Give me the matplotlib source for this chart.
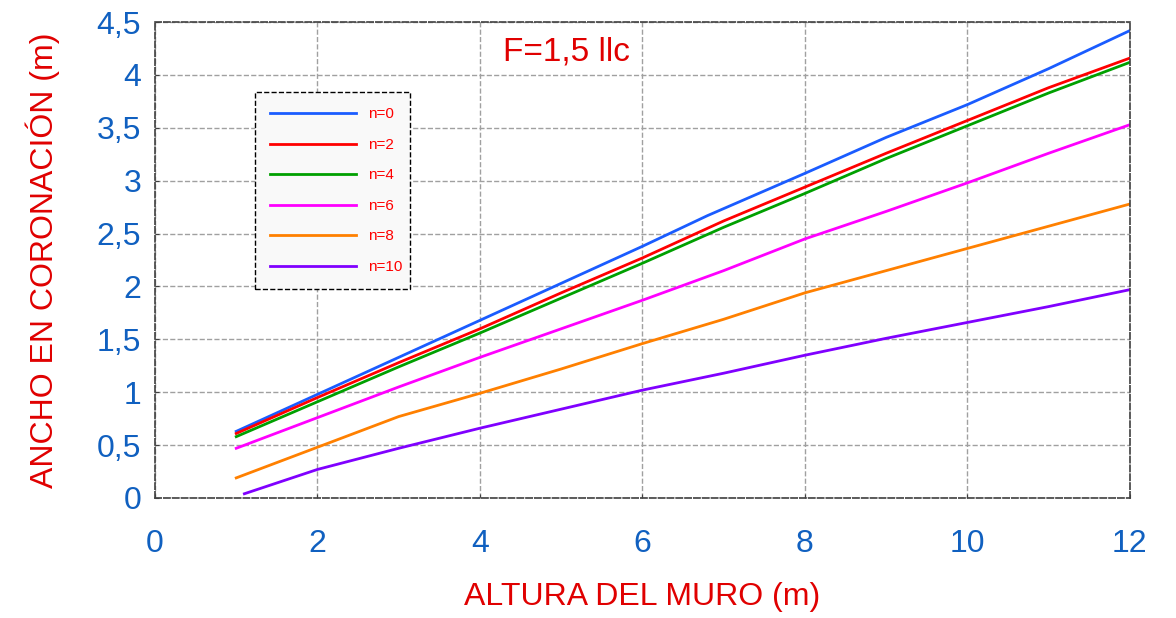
import matplotlib.pyplot as plt
from matplotlib.ticker import FuncFormatter

# datos
x_std = [1, 2, 3, 4, 5, 6, 7, 8, 9, 10, 11, 12]
x_n0 = [1, 2, 3, 4, 5, 6, 6.8, 8, 9, 10, 11, 12]
x_n10 = [1.1, 2, 3, 4, 5, 6, 7, 8, 9, 10, 11, 12]

n0 = [0.63, 0.98, 1.33, 1.68, 2.03, 2.38, 2.67, 3.07, 3.41, 3.72, 4.06, 4.42]
n2 = [0.61, 0.95, 1.28, 1.60, 1.94, 2.27, 2.62, 2.94, 3.26, 3.57, 3.88, 4.16]
n4 = [0.58, 0.91, 1.24, 1.56, 1.89, 2.22, 2.56, 2.88, 3.21, 3.52, 3.83, 4.12]
n6 = [0.47, 0.76, 1.05, 1.33, 1.60, 1.87, 2.15, 2.45, 2.71, 2.98, 3.26, 3.53]
n8 = [0.19, 0.48, 0.77, 0.99, 1.22, 1.46, 1.69, 1.94, 2.15, 2.36, 2.57, 2.78]
n10 = [0.04, 0.27, 0.47, 0.66, 0.84, 1.02, 1.18, 1.35, 1.51, 1.66, 1.81, 1.97]

series = [
    (x_n0, n0, 'n=0', '#1a5cff'),
    (x_std, n2, 'n=2', '#ff0000'),
    (x_std, n4, 'n=4', '#00a000'),
    (x_std, n6, 'n=6', '#ff00ff'),
    (x_std, n8, 'n=8', '#ff8000'),
    (x_n10, n10, 'n=10', '#8000ff'),
]

plt.rcParams['font.family'] = ['Liberation Sans', 'DejaVu Sans']

fig = plt.figure(figsize=(11.76, 6.18), dpi=100)
ax = fig.add_axes([0.1318, 0.1942, 0.829, 0.770])

for xs, ys, lab, col in series:
    ax.plot(xs, ys, color=col, lw=2, label=lab)

ax.set_xlim(0, 12)
ax.set_ylim(0, 4.5)
ax.set_xticks(range(0, 13, 2))
ax.set_yticks([i * 0.5 for i in range(10)])
ax.yaxis.set_major_formatter(FuncFormatter(
    lambda v, p: ('%g' % v).replace('.', ',')))

tick_col = '#1060c0'
ax.tick_params(axis='both', labelsize=23, labelcolor=tick_col,
               direction='in', length=3, color='#404040')
ax.tick_params(axis='x', pad=22)
ax.tick_params(axis='y', pad=10)

ax.grid(True, color='#a0a0a0', ls='--', lw=1)
for s in ax.spines.values():
    s.set_linestyle('--')
    s.set_color('#404040')
    s.set_linewidth(1.2)

ax.set_xlabel('ALTURA DEL MURO (m)', color='#e00000', fontsize=23, labelpad=17)
ax.set_ylabel('ANCHO EN CORONACIÓN (m)', color='#e00000', fontsize=23, labelpad=26)

ax.text(5.07, 4.22, 'F=1,5 llc', color='#e00000', fontsize=24,
        ha='center', va='center')

leg = ax.legend(loc='upper left', bbox_to_anchor=(0.1026, 0.853, 0.159, 0.0),
                mode='expand', borderaxespad=0, fontsize=11, labelcolor='#ff0000',
                handlelength=5.6, handletextpad=0.8, labelspacing=1.08,
                borderpad=1.0, fancybox=False, framealpha=1,
                facecolor='#f9f9f9', edgecolor='black')
leg.get_frame().set_linestyle('--')
leg.get_frame().set_linewidth(1.0)

fig.savefig('out.png', dpi=100)
